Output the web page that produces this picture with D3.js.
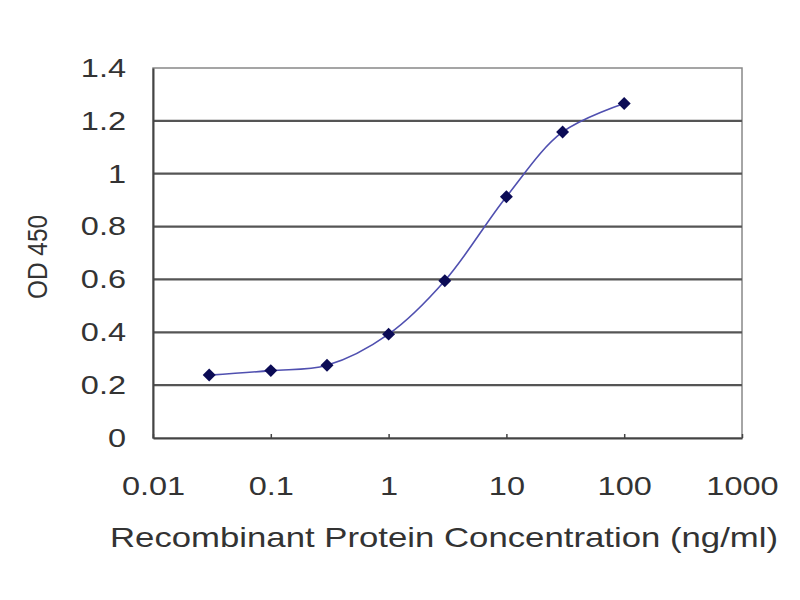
<!DOCTYPE html>
<html>
<head>
<meta charset="utf-8">
<script src="https://cdn.jsdelivr.net/npm/d3@7/dist/d3.min.js"></script>
<style>
  body { margin: 0; background: #fff; }
  text { font-family: "Liberation Sans", Arial, sans-serif; fill: #333; }
</style>
</head>
<body>
<svg id="chart" width="800" height="600"></svg>
<script>
// concentration (ng/ml) and OD 450 readings
var concentrations = [0.03, 0.1, 0.3, 1, 3, 10, 30, 100];
var odValues = [0.238, 0.255, 0.275, 0.393, 0.595, 0.913, 1.158, 1.266];
var xTicks = [0.01, 0.1, 1, 10, 100, 1000];
var xTickLabels = ["0.01", "0.1", "1", "10", "100", "1000"];
var yTicks = [0, 0.2, 0.4, 0.6, 0.8, 1, 1.2, 1.4];
var yTickLabels = ["0", "0.2", "0.4", "0.6", "0.8", "1", "1.2", "1.4"];

var margin = { left: 153, right: 58, top: 68, bottom: 162 };
var width = 800 - margin.left - margin.right;
var height = 600 - margin.top - margin.bottom;

var svg = d3.select("#chart");
var g = svg.append("g").attr("transform", "translate(" + margin.left + "," + margin.top + ")");

var x = d3.scaleLog().domain([0.01, 1000]).range([0, width]);
var y = d3.scaleLinear().domain([0, 1.4]).range([height, 0]);

// the source picture is stretched sideways, so widen the labels a bit
function widen(sel, k) {
    sel.each(function () {
        var w = this.getComputedTextLength();
        d3.select(this).attr("textLength", w * k).attr("lengthAdjust", "spacingAndGlyphs");
    });
}

// plot frame
g.append("rect")
    .attr("x", 0).attr("y", 0)
    .attr("width", width).attr("height", height)
    .attr("fill", "none")
    .attr("stroke", "#888")
    .attr("stroke-width", 1.5);

// horizontal gridlines
g.selectAll(".grid")
    .data(yTicks.filter(function (d) { return d > 0 && d < 1.4; }))
    .enter().append("line")
    .attr("class", "grid")
    .attr("x1", 0).attr("x2", width)
    .attr("y1", function (d) { return y(d); })
    .attr("y2", function (d) { return y(d); })
    .attr("stroke", "#555")
    .attr("stroke-width", 2.2);

// y axis
var yAxis = d3.axisLeft(y)
    .tickValues(yTicks)
    .tickFormat(function (d, i) { return yTickLabels[i]; })
    .tickSize(0)
    .tickPadding(27);
var yg = g.append("g").call(yAxis);
yg.select(".domain").attr("stroke", "#444").attr("stroke-width", 2);
yg.selectAll("text").style("font-size", "26px").attr("fill", "#333").call(widen, 1.25);

// x axis
var xAxis = d3.axisBottom(x)
    .tickValues(xTicks)
    .tickFormat(function (d, i) { return xTickLabels[i]; })
    .tickSizeInner(-4)
    .tickSizeOuter(0)
    .tickPadding(39);
var xg = g.append("g").attr("transform", "translate(0," + height + ")").call(xAxis);
xg.select(".domain").attr("stroke", "#444").attr("stroke-width", 2);
xg.selectAll(".tick line").attr("stroke", "#444").attr("stroke-width", 1.5);
xg.selectAll("text").style("font-size", "26px").attr("fill", "#333").call(widen, 1.25);

// smoothed curve
var line = d3.line()
    .x(function (d, i) { return x(concentrations[i]); })
    .y(function (d) { return y(d); })
    .curve(d3.curveCatmullRom.alpha(0.5));

g.append("path")
    .datum(odValues)
    .attr("d", line)
    .attr("fill", "none")
    .attr("stroke", "#5050b0")
    .attr("stroke-width", 1.6);

// diamond markers (rotated squares)
var marker = d3.symbol().type(d3.symbolSquare).size(84);
g.selectAll(".pt")
    .data(odValues)
    .enter().append("path")
    .attr("class", "pt")
    .attr("d", marker)
    .attr("transform", function (d, i) {
        return "translate(" + x(concentrations[i]) + "," + y(d) + ") rotate(45)";
    })
    .attr("fill", "#0b0b55");

// axis titles
svg.append("text")
    .attr("x", 444).attr("y", 547)
    .attr("text-anchor", "middle")
    .attr("textLength", 668)
    .attr("lengthAdjust", "spacingAndGlyphs")
    .style("font-size", "28px")
    .text("Recombinant Protein Concentration (ng/ml)");

svg.append("text")
    .attr("transform", "translate(47,257) rotate(-90)")
    .attr("text-anchor", "middle")
    .attr("textLength", 84)
    .attr("lengthAdjust", "spacingAndGlyphs")
    .style("font-size", "27px")
    .text("OD 450");
</script>
</body>
</html>
